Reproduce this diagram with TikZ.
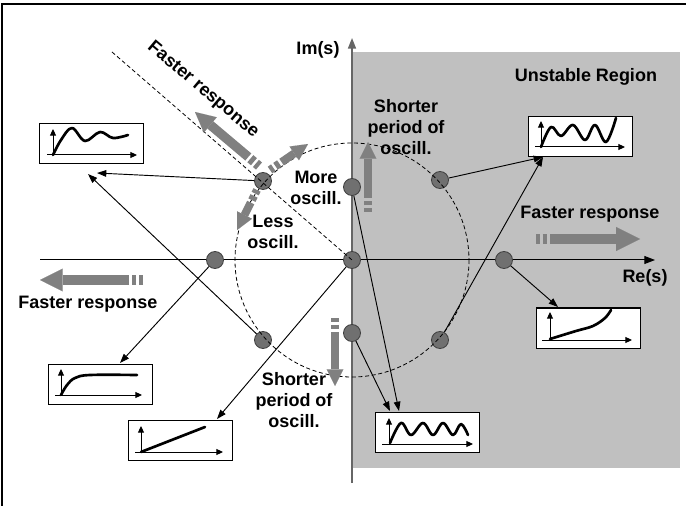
\documentclass[tikz,border=0pt]{standalone}
\usepackage{fontspec}
\setmainfont{Liberation Sans}
\usetikzlibrary{arrows.meta}
\definecolor{regiongray}{HTML}{C0C0C0}
\definecolor{arrowgray}{HTML}{808080}
\definecolor{polegray}{HTML}{707070}
\definecolor{poleedge}{HTML}{404040}
\begin{document}
\begin{tikzpicture}[x=0.75pt,y=-0.75pt,
  pole/.style={circle, draw=poleedge, fill=polegray, line width=0.6pt, minimum size=12.75pt, inner sep=0pt},
  box/.style={draw=black, fill=white, line width=0.75pt, minimum width=78pt, minimum height=30pt, inner sep=0pt, outer sep=0pt},
  conn/.style={line width=0.7pt, -{Triangle[length=7pt,width=5pt]}},
  maxis/.style={line width=0.75pt, -{Triangle[length=5pt,width=4.5pt]}},
  curve/.style={line width=2pt, line join=round, line cap=round},
  bigarrow/.style 2 args={draw=arrowgray, line width=#1, -{Triangle[length=#2,width=#2,line width=0.01pt]}, dash pattern=on 3pt off 2pt on 3.5pt off 2pt on 500pt},
  guide/.style={line width=0.6pt, dash pattern=on 3pt off 2pt},
  lbl/.style={font=\fontsize{13.5}{16}\selectfont\bfseries, align=center, inner sep=0pt}
]
\useasboundingbox (0,0) rectangle (686,506);
% frame
\draw[line width=0.9pt] (2,506) -- (2,4) -- (686,4);
% unstable region
\fill[regiongray] (352,52) rectangle (680,468);
% axes
\coordinate (xs) at (40,260);
\coordinate (xe) at (655,260);
\coordinate (ys) at (352,483);
\coordinate (ye) at (352,38);
\draw[line width=0.75pt, -{Triangle[length=8pt,width=6pt]}] (xs) -- (xe);
\draw[black!60, line width=1.2pt, -{Triangle[length=8pt,width=6pt]}] (ys) -- (ye);
% poles
\node[pole] (P1) at (263,181) {};
\node[pole] (P2) at (352,187) {};
\node[pole] (P3) at (352,260) {};
\node[pole] (P4) at (352,333) {};
\node[pole] (P5) at (215,260) {};
\node[pole] (P6) at (440,180) {};
\node[pole] (P7) at (504,260) {};
\node[pole] (P8) at (440,340) {};
\node[pole] (P9) at (263,340) {};
% dashed guides
\coordinate (dstart) at (112,52);
\draw[guide] (P3.center) circle [radius=117];
\draw[guide] (dstart) -- (P3.center);
% boxes
\node[box] (B1) at (91.5,144) {};
\node[box] (B2) at (580,136.5) {};
\node[box] (B3) at (588,328) {};
\node[box] (B4) at (100,384) {};
\node[box] (B5) at (180,440) {};
\node[box] (B6) at (427.5,432) {};
% connector tips
\coordinate (t1a) at (97,173);
\coordinate (t1b) at (88,174);
\coordinate (t2) at (543,157);
\coordinate (t3) at (558,307);
\coordinate (t4) at (120,363);
\coordinate (t5) at (217,419);
\coordinate (t6a) at (390,411);
\coordinate (t6b) at (399,411);
\draw[conn] (P1) -- (t1a);
\draw[conn] (P9) -- (t1b);
\draw[conn] (P6) -- (t2);
\draw[conn] (P8) -- (t2);
\draw[conn] (P7) -- (t3);
\draw[conn] (P5) -- (t4);
\draw[conn] (P3) -- (t5);
\draw[conn] (P4) -- (t6a);
\draw[conn] (P2) -- (t6b);
% mini plots
% B1 damped oscillation
\draw[maxis] (53,155) -- (53,129);
\draw[maxis] (47,155) -- (137,155);
\draw[curve] plot[smooth, tension=0.6] coordinates {(53,155) (61,140) (72,128) (85,141) (100,132) (113,138) (128,135)};
% B2 growing oscillation
\draw[maxis] (541,147) -- (541,121);
\draw[maxis] (535,147) -- (625,147);
\draw[curve] plot[smooth, tension=0.6] coordinates {(541,147) (551,127) (561,136) (573,125) (585,140) (595,125) (606,142) (616,118)};
% B3 exponential growth
\draw[maxis] (550,340) -- (550,312);
\draw[maxis] (542,340) -- (632,340);
\draw[curve] plot[smooth, tension=0.6] coordinates {(550,339) (576,331) (593,326) (605,318) (611,310)};
% B4 first order
\draw[maxis] (61,395) -- (61,369);
\draw[maxis] (55,395) -- (142,395);
\draw[curve] plot[smooth, tension=0.6] coordinates {(61,395) (67,385) (75,378) (90,375) (137,375)};
% B5 ramp
\draw[maxis] (141,452) -- (141,426);
\draw[maxis] (135,452) -- (223,452);
\draw[curve] (141,452) -- (205,427);
% B6 sustained oscillation
\draw[maxis] (389,444) -- (389,418);
\draw[maxis] (382,444) -- (473,444);
\draw[curve] plot[smooth, tension=0.6] coordinates {(390,443) (401,423) (411,435) (423,423) (433,435) (443,423) (453,435) (461,424) (468,435)};
% big gray arrows
\coordinate (aLs) at (143,280); \coordinate (aLe) at (40,280);
\coordinate (aRs) at (536,239); \coordinate (aRe) at (640,239);
\coordinate (aUs) at (368,212); \coordinate (aUe) at (368,142);
\coordinate (aDs) at (335,318); \coordinate (aDe) at (335,386);
\coordinate (aFs) at (259,166); \coordinate (aFe) at (195,112);
\coordinate (aMs) at (270,170); \coordinate (aMe) at (308,144);
\coordinate (aSs) at (257,190); \coordinate (aSe) at (237,230);
\draw[bigarrow={7.5pt}{17pt}] (aLs) -- (aLe);
\draw[bigarrow={7.5pt}{18pt}] (aRs) -- (aRe);
\draw[bigarrow={6pt}{12.5pt}] (aUs) -- (aUe);
\draw[bigarrow={6pt}{12.5pt}] (aDs) -- (aDe);
\draw[bigarrow={7pt}{15pt}] (aFs) -- (aFe);
\draw[bigarrow={6pt}{12.5pt}] (aMs) -- (aMe);
\draw[bigarrow={6pt}{12.5pt}] (aSs) -- (aSe);
% labels
\node[lbl] (im) at (318,50) {Im(s)};
\node[lbl] (re) at (645,278) {Re(s)};
\node[lbl] (unst) at (586,77) {Unstable Region};
\node[lbl] (fr1) at (590,214) {Faster response};
\node[lbl] (fr2) at (88,304) {Faster response};
\node[lbl, rotate=-40] (fr3) at (203,90) {Faster response};
\node[lbl] (more) at (316,188) {More\\oscill.};
\node[lbl] (less) at (273,232) {Less\\oscill.};
\node[lbl] (sp1) at (406,127) {Shorter\\period of\\oscill.};
\node[lbl] (sp2) at (294,400) {Shorter\\period of\\oscill.};
\end{tikzpicture}
\end{document}
